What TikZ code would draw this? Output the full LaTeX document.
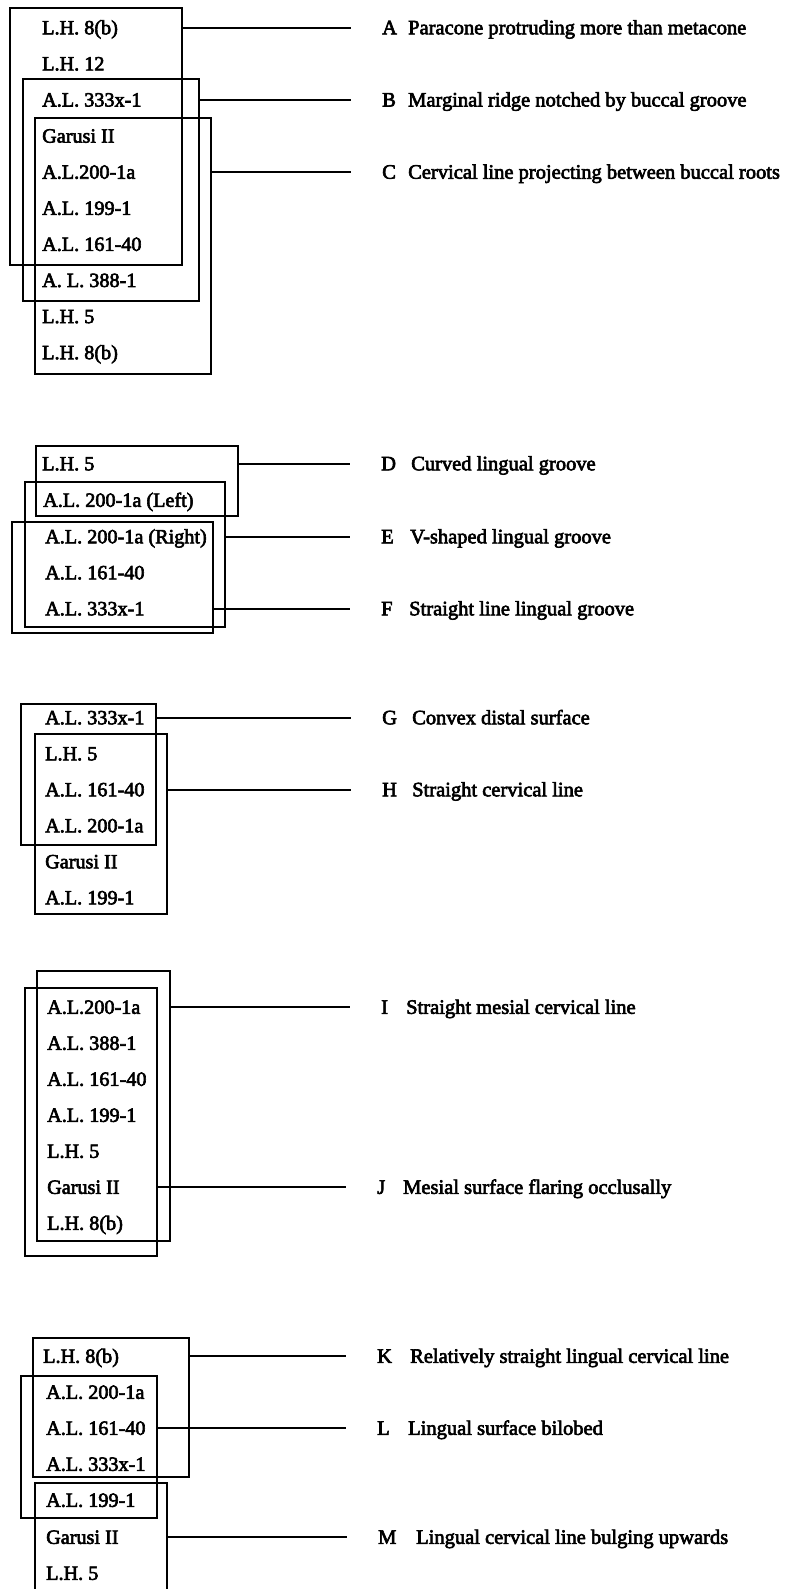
\documentclass[tikz,border=0pt]{standalone}
\usepackage{fontspec}
\setmainfont{Liberation Serif}[BoldFont=Liberation Serif, BoldFeatures={FakeBold=3}]
\usetikzlibrary{fit}
\tikzset{
  boxframe/.style={draw, line width=2pt, inner sep=0pt, rectangle},
  conn/.style={line width=2pt, shorten >=31pt},
  item/.style={anchor=base west, inner sep=0pt, font=\fontsize{20.2}{24}\selectfont\bfseries},
  letter/.style={anchor=base west, inner sep=0pt, font=\fontsize{20.5}{24}\selectfont\bfseries},
  desc/.style={anchor=base west, inner sep=0pt, font=\fontsize{20.5}{24}\selectfont\bfseries},
}
\begin{document}
\begin{tikzpicture}[x=1pt,y=-1pt]
\useasboundingbox[fill=white] (0,0) rectangle (788,1589);
\begin{scope}
\clip (0,0) rectangle (788,1589);
% ---------------- Group 1 ----------------
\node[item] (g1a) at (42,34.3) {L.H. 8(b)};
\node[item] (g1b) at (42,70.4) {L.H. 12};
\node[item] (g1c) at (42,106.5) {A.L. 333x-1};
\node[item] (g1d) at (42,142.6) {Garusi II};
\node[item] (g1e) at (42,178.7) {A.L.200-1a};
\node[item] (g1f) at (42,214.8) {A.L. 199-1};
\node[item] (g1g) at (42,250.9) {A.L. 161-40};
\node[item] (g1h) at (42,287.0) {A. L. 388-1};
\node[item] (g1i) at (42,323.1) {L.H. 5};
\node[item] (g1j) at (42,359.2) {L.H. 8(b)};
\node[boxframe, fit={(10,8) (182,265)}] (bA) {};
\node[boxframe, fit={(23,79) (199,301)}] (bB) {};
\node[boxframe, fit={(35,118) (211,374)}] (bC) {};
\node[letter] (LA) at (382,34.3) {A};
\node[desc] (DA) at (408,34.3) {Paracone protruding more than metacone};
\node[letter] (LB) at (382,106.5) {B};
\node[desc] (DB) at (408,106.5) {Marginal ridge notched by buccal groove};
\node[letter] (LC) at (382,178.7) {C};
\node[desc] (DC) at (408,178.7) {Cervical line projecting between buccal roots};
\draw[conn] (bA.east |- LA.west) -- (LA.west);
\draw[conn] (bB.east |- LB.west) -- (LB.west);
\draw[conn] (bC.east |- LC.west) -- (LC.west);
% ---------------- Group 2 ----------------
\node[item] (g2a) at (42,470.3) {L.H. 5};
\node[item] (g2b) at (43,506.8) {A.L. 200-1a (Left)};
\node[item] (g2c) at (45,543.3) {A.L. 200-1a (Right)};
\node[item] (g2d) at (45,579.3) {A.L. 161-40};
\node[item] (g2e) at (45,615.3) {A.L. 333x-1};
\node[boxframe, fit={(36,446) (238,516)}] (bD) {};
\node[boxframe, fit={(25,482) (225,627)}] (bE) {};
\node[boxframe, fit={(12,522) (213,633)}] (bF) {};
\node[letter] (LD) at (381,470.3) {D};
\node[desc] (DD) at (411,470.3) {Curved lingual groove};
\node[letter] (LE) at (381,543.3) {E};
\node[desc] (DE) at (410,543.3) {V-shaped lingual groove};
\node[letter] (LF) at (381,615.3) {F};
\node[desc] (DF) at (409,615.3) {Straight line lingual groove};
\draw[conn] (bD.east |- LD.west) -- (LD.west);
\draw[conn] (bE.east |- LE.west) -- (LE.west);
\draw[conn] (bF.east |- LF.west) -- (LF.west);
% ---------------- Group 3 ----------------
\node[item] (g3a) at (45,724.3) {A.L. 333x-1};
\node[item] (g3b) at (45,760.3) {L.H. 5};
\node[item] (g3c) at (45,796.3) {A.L. 161-40};
\node[item] (g3d) at (45,832.3) {A.L. 200-1a};
\node[item] (g3e) at (45,868.3) {Garusi II};
\node[item] (g3f) at (45,904.3) {A.L. 199-1};
\node[boxframe, fit={(21,704) (156,845)}] (bG) {};
\node[boxframe, fit={(35,734) (167,914)}] (bH) {};
\node[letter] (LG) at (382,724.3) {G};
\node[desc] (DG) at (412,724.3) {Convex distal surface};
\node[letter] (LH) at (382,796.3) {H};
\node[desc] (DH) at (412,796.3) {Straight cervical line};
\draw[conn] (bG.east |- LG.west) -- (LG.west);
\draw[conn] (bH.east |- LH.west) -- (LH.west);
% ---------------- Group 4 ----------------
\node[item] (g4a) at (47,1013.8) {A.L.200-1a};
\node[item] (g4b) at (47,1049.8) {A.L. 388-1};
\node[item] (g4c) at (47,1085.8) {A.L. 161-40};
\node[item] (g4d) at (47,1121.8) {A.L. 199-1};
\node[item] (g4e) at (47,1157.8) {L.H. 5};
\node[item] (g4f) at (47,1193.8) {Garusi II};
\node[item] (g4g) at (47,1229.8) {L.H. 8(b)};
\node[boxframe, fit={(37,971) (170,1241)}] (bI) {};
\node[boxframe, fit={(25,988) (157,1256)}] (bJ) {};
\node[letter] (LI) at (381,1013.8) {I};
\node[desc] (DI) at (406,1013.8) {Straight mesial cervical line};
\node[letter] (LJ) at (377,1193.8) {J};
\node[desc] (DJ) at (403,1193.8) {Mesial surface flaring occlusally};
\draw[conn] (bI.east |- LI.west) -- (LI.west);
\draw[conn] (bJ.east |- LJ.west) -- (LJ.west);
% ---------------- Group 5 ----------------
\node[item] (g5a) at (43,1362.8) {L.H. 8(b)};
\node[item] (g5b) at (46,1398.8) {A.L. 200-1a};
\node[item] (g5c) at (46,1434.8) {A.L. 161-40};
\node[item] (g5d) at (46,1470.8) {A.L. 333x-1};
\node[item] (g5e) at (46,1506.8) {A.L. 199-1};
\node[item] (g5f) at (46,1543.8) {Garusi II};
\node[item] (g5g) at (46,1579.8) {L.H. 5};
\node[boxframe, fit={(33,1338) (189,1477)}] (bK) {};
\node[boxframe, fit={(21,1376) (157,1518)}] (bL) {};
\node[boxframe, fit={(35,1483) (167,1610)}] (bM) {};
\node[letter] (LK) at (377,1362.8) {K};
\node[desc] (DK) at (410,1362.8) {Relatively straight lingual cervical line};
\node[letter] (LL) at (377,1434.8) {L};
\node[desc] (DL) at (408,1434.8) {Lingual surface bilobed};
\node[letter] (LM) at (378,1543.8) {M};
\node[desc] (DM) at (416,1543.8) {Lingual cervical line bulging upwards};
\draw[conn] (bK.east |- LK.west) -- (LK.west);
\draw[conn] (bL.east |- LL.west) -- (LL.west);
\draw[conn] (bM.east |- LM.west) -- (LM.west);
\end{scope}
\end{tikzpicture}
\end{document}
